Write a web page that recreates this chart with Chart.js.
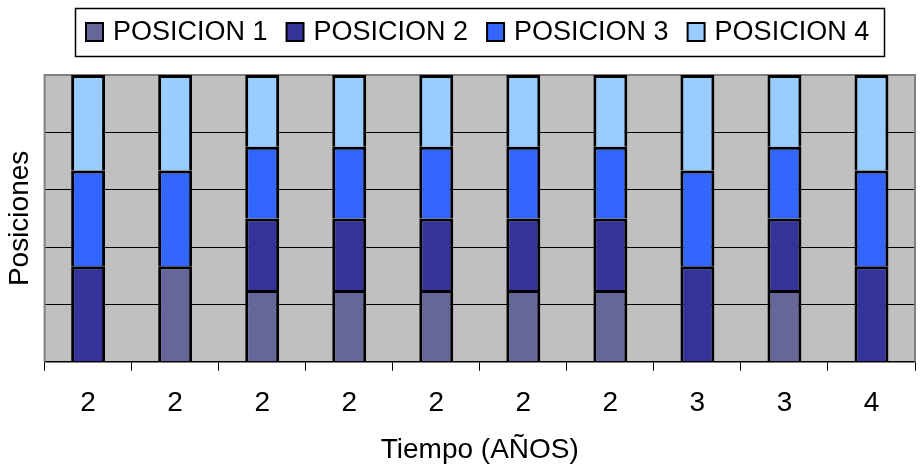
<!DOCTYPE html>
<html>
<head>
<meta charset="utf-8">
<script src="https://cdn.jsdelivr.net/npm/chart.js@4.4.1/dist/chart.umd.min.js"></script>
<style>
  html, body { margin: 0; padding: 0; background: #fff; }
  #wrap { width: 923px; height: 468px; }
</style>
</head>
<body>
<div id="wrap"><canvas id="barChart" width="923" height="468"></canvas></div>
<script>
var etiquetas = ['2', '2', '2', '2', '2', '2', '2', '3', '3', '4']
var series = ['POSICION 1', 'POSICION 2', 'POSICION 3', 'POSICION 4']
// cuantas veces ocupo cada posicion en cada periodo
var posicion1 = [0, 1, 1, 1, 1, 1, 1, 0, 1, 0]
var posicion2 = [1, 0, 1, 1, 1, 1, 1, 1, 1, 1]
var posicion3 = [1, 1, 1, 1, 1, 1, 1, 1, 1, 1]
var posicion4 = [1, 1, 1, 1, 1, 1, 1, 1, 1, 1]
var colores = ['#666699', '#333399', '#3366FF', '#99CCFF']

var FUENTE = '"Liberation Sans", Arial, sans-serif'

// 100% apilado
var valores = [posicion1, posicion2, posicion3, posicion4]
var totales = etiquetas.map(function (e, i) {
  var t = 0
  valores.forEach(function (v) { t += v[i] })
  return t
})
function porcentaje(arr) {
  return arr.map(function (v, i) { return v ? v / totales[i] * 100 : null })
}

var datasets = series.map(function (nombre, k) {
  return {
    label: nombre,
    data: porcentaje(valores[k]),
    backgroundColor: colores[k],
    borderColor: '#000',
    borderWidth: 3,
    borderSkipped: 'start',
    barPercentage: 0.39,
    categoryPercentage: 1
  }
})

// fondo gris y marco del area de trazado
var fondoPlugin = {
  id: 'fondo',
  beforeDraw: function (chart) {
    var a = chart.chartArea, ctx = chart.ctx
    ctx.save()
    ctx.fillStyle = '#C0C0C0'
    ctx.fillRect(a.left, a.top, a.right - a.left, a.bottom - a.top)
    ctx.restore()
  },
  beforeDatasetsDraw: function (chart) {
    var a = chart.chartArea, ctx = chart.ctx
    ctx.save()
    ctx.strokeStyle = '#808080'
    ctx.lineWidth = 2
    ctx.beginPath()
    ctx.moveTo(a.left, a.bottom)
    ctx.lineTo(a.left, a.top)
    ctx.lineTo(a.right, a.top)
    ctx.lineTo(a.right, a.bottom)
    ctx.stroke()
    ctx.restore()
  }
}

// leyenda con recuadro, como la de Excel
var leyendaPlugin = {
  id: 'leyenda',
  afterDraw: function (chart) {
    var ctx = chart.ctx
    ctx.save()
    ctx.fillStyle = '#fff'
    ctx.fillRect(75, 8, 810, 48)
    ctx.strokeStyle = '#000'
    ctx.lineWidth = 1.5
    ctx.strokeRect(75.5, 8.5, 809, 48)
    ctx.font = '27px ' + FUENTE
    ctx.textBaseline = 'middle'
    ctx.textAlign = 'left'
    var x = 86
    chart.data.datasets.forEach(function (ds) {
      ctx.fillStyle = ds.backgroundColor
      ctx.fillRect(x, 23, 17, 18)
      ctx.strokeStyle = '#000'
      ctx.lineWidth = 2
      ctx.strokeRect(x, 23, 17, 18)
      ctx.fillStyle = '#000'
      ctx.fillText(ds.label, x + 27, 33)
      x += 27 + ctx.measureText(ds.label).width + 19
    })
    ctx.restore()
  }
}

var barChartCanvas = document.getElementById('barChart').getContext('2d')

new Chart(barChartCanvas, {
  type: 'bar',
  data: { labels: etiquetas, datasets: datasets },
  options: {
    responsive: false,
    animation: false,
    layout: { padding: { left: 0, right: 8, top: 75, bottom: 1 } },
    plugins: {
      legend: { display: false },
      tooltip: { enabled: false }
    },
    scales: {
      x: {
        stacked: true,
        grid: {
          offset: true,
          drawOnChartArea: false,
          drawTicks: true,
          tickLength: 9,
          color: '#000',
          lineWidth: 1
        },
        border: { display: true, color: '#000', width: 1.5 },
        ticks: {
          color: '#000',
          padding: 16,
          maxRotation: 0,
          autoSkip: false,
          font: { family: FUENTE, size: 28 }
        },
        title: {
          display: true,
          text: 'Tiempo (AÑOS)',
          color: '#000',
          font: { family: FUENTE, size: 28 },
          padding: { top: -3, bottom: 0 }
        }
      },
      y: {
        stacked: true,
        min: 0,
        max: 100,
        grid: {
          drawTicks: false,
          color: function (c) {
            return (c.tick && (c.tick.value === 0 || c.tick.value === 100)) ? 'rgba(0,0,0,0)' : '#000'
          },
          lineWidth: 1
        },
        border: { display: false },
        ticks: { display: false, stepSize: 20 },
        title: {
          display: true,
          text: 'Posiciones',
          color: '#000',
          font: { family: FUENTE, size: 28 },
          padding: { top: 3, bottom: 8 }
        }
      }
    }
  },
  plugins: [fondoPlugin, leyendaPlugin]
})
</script>
</body>
</html>
